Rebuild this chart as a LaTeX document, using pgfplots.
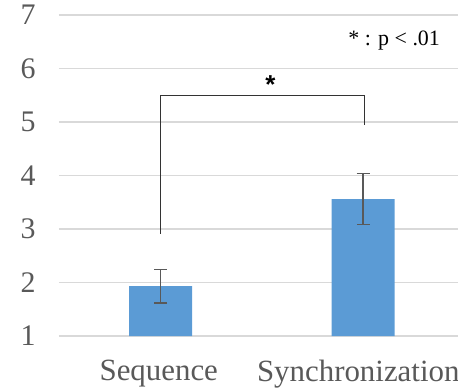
\documentclass[border=0pt]{standalone}
\usepackage{pgfplots}
\pgfplotsset{compat=1.18}
\usepackage{fontspec}
\setmainfont{Liberation Serif}
\newfontfamily\arialfont{Liberation Sans}
\definecolor{barblue}{HTML}{5B9BD5}
\definecolor{txtgray}{HTML}{595959}
\definecolor{gridgray}{HTML}{D9D9D9}
\begin{document}
\begin{tikzpicture}
\begin{axis}[
  scale only axis,
  width=399bp, height=321bp,
  xmin=-0.5, xmax=1.5,
  ymin=1, ymax=7,
  ytick={1,2,3,4,5,6,7},
  xtick={0,1},
  xticklabels={Sequence,Synchronization},
  axis line style={draw=none},
  major tick length=0pt,
  ymajorgrids,
  grid style={gridgray, line width=1.2bp},
  /pgf/number format/assume math mode=true,
  yticklabel style={font=\fontsize{30}{34}\selectfont, text=txtgray, xshift=-20bp},
  xticklabel style={font=\fontsize{31}{35}\selectfont, text=txtgray, yshift=-21bp},
  clip=false,
]
\addplot[ybar, bar width=63bp, fill=barblue, draw=none,
  error bars/.cd, y dir=both, y explicit,
  error bar style={txtgray, line width=1.5bp},
  error mark options={rotate=90, mark size=6.5bp, line width=1.5bp, txtgray}]
  coordinates {(0.01,1.93) +- (0,0.31) (1.025,3.56) +- (0,0.48)};
\draw[black!80, line width=1.3bp] (axis cs:0.01,2.91) -- (axis cs:0.01,5.50) -- (axis cs:1.03,5.50) -- (axis cs:1.03,4.94);
\node[font=\arialfont\bfseries\fontsize{26}{28}\selectfont] at (axis cs:0.56,5.70) {*};
\node[font=\fontsize{22}{24}\selectfont] at (axis cs:1.18,6.53) {* : p < .01};
\coordinate (sw) at (rel axis cs:0,0);
\coordinate (ne) at (rel axis cs:1,1);
\end{axis}
\pgfresetboundingbox
\path[use as bounding box] ([xshift=-59bp,yshift=-53bp]sw) rectangle ([yshift=15bp]ne);
\end{tikzpicture}
\end{document}
